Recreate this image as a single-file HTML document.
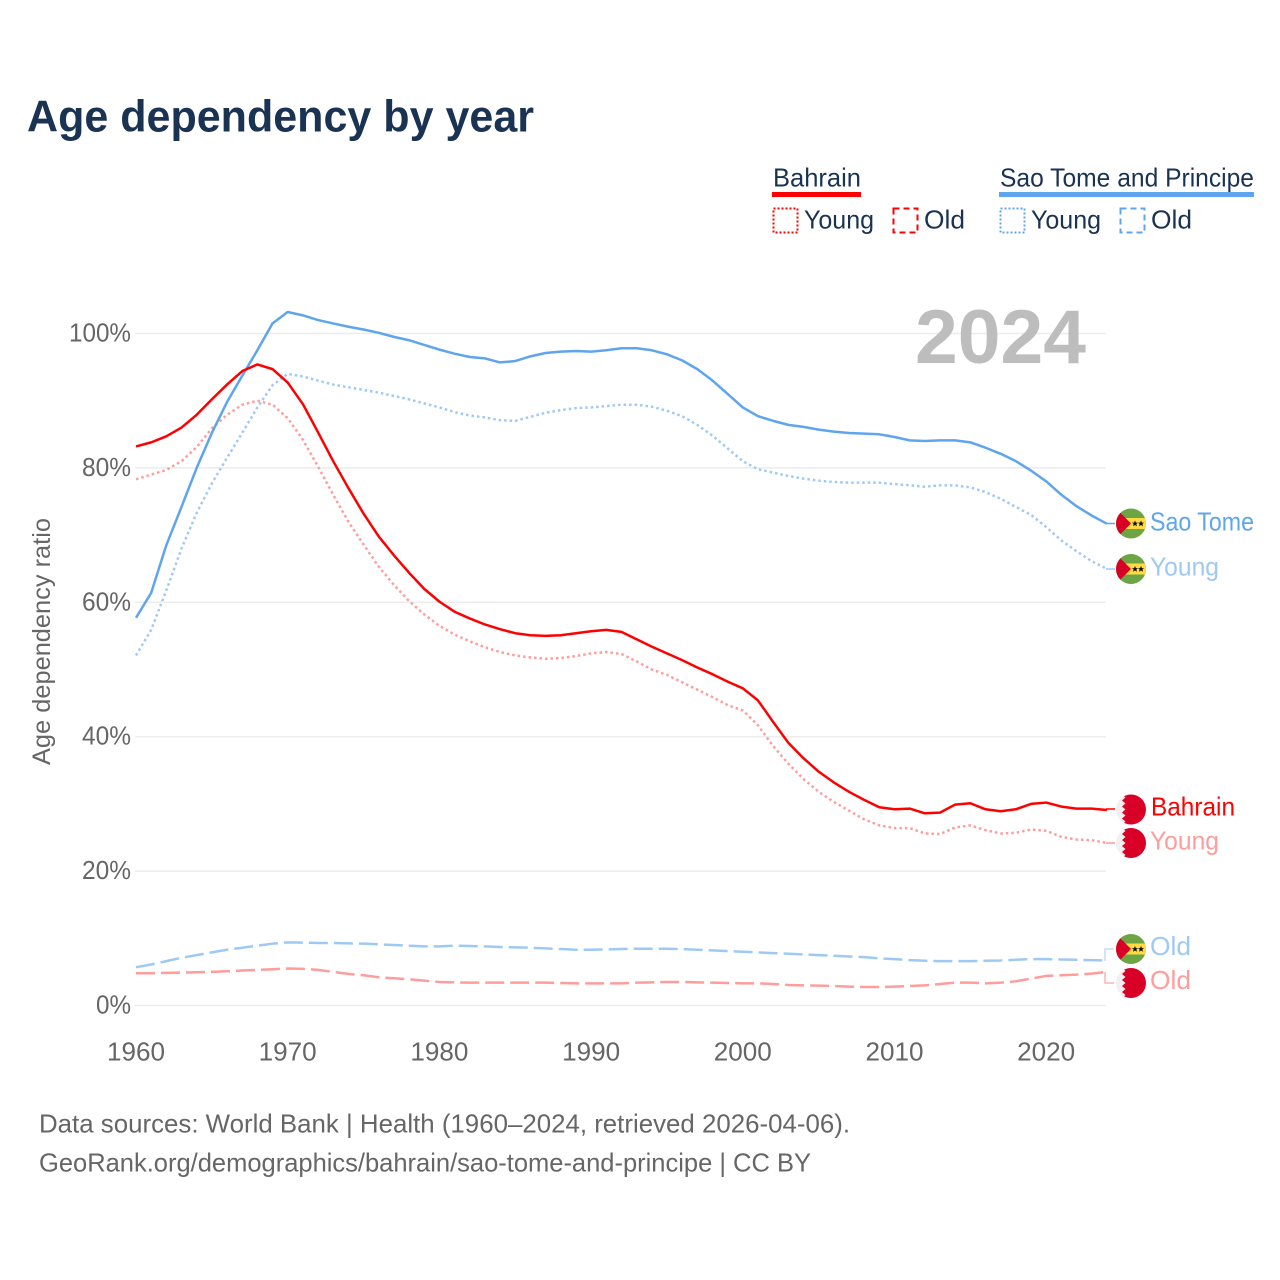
<!DOCTYPE html>
<html lang="en">
<head>
<meta charset="utf-8">
<title>Age dependency by year</title>
<style>
html,body{margin:0;padding:0;background:#fff;}
svg{display:block;font-family:"Liberation Sans",sans-serif;}
</style>
</head>
<body>
<svg id="chart" width="1280" height="1280" viewBox="0 0 1280 1280" xmlns="http://www.w3.org/2000/svg">
  <rect x="0" y="0" width="1280" height="1280" fill="#ffffff"/>
  <text x="27" y="131.5" font-size="44.5" font-weight="700" fill="#1a3352" textLength="507" lengthAdjust="spacingAndGlyphs">Age dependency by year</text>

  <g>
    <text x="773" y="186.5" font-size="26" fill="#1a3352" textLength="88" lengthAdjust="spacingAndGlyphs">Bahrain</text>
    <rect x="772" y="192" width="89" height="5" fill="#ff0000"/>
    <rect x="773.5" y="208.5" width="24" height="24" fill="none" stroke="#ff0000" stroke-width="2" stroke-dasharray="2 2"/>
    <text x="804" y="228.5" font-size="26" fill="#1a3352" textLength="70" lengthAdjust="spacingAndGlyphs">Young</text>
    <rect x="893.5" y="208.5" width="24" height="24" fill="none" stroke="#ff0000" stroke-width="2" stroke-dasharray="6 4"/>
    <text x="924" y="228.5" font-size="26" fill="#1a3352" textLength="41" lengthAdjust="spacingAndGlyphs">Old</text>
    <text x="1000" y="186.5" font-size="26" fill="#1a3352" textLength="254" lengthAdjust="spacingAndGlyphs">Sao Tome and Principe</text>
    <rect x="999" y="192" width="255" height="5" fill="#5fa5ee"/>
    <rect x="1000.5" y="208.5" width="24" height="24" fill="none" stroke="#5fa5ee" stroke-width="2" stroke-dasharray="2 2"/>
    <text x="1031" y="228.5" font-size="26" fill="#1a3352" textLength="70" lengthAdjust="spacingAndGlyphs">Young</text>
    <rect x="1120.5" y="208.5" width="24" height="24" fill="none" stroke="#5fa5ee" stroke-width="2" stroke-dasharray="6 4"/>
    <text x="1151" y="228.5" font-size="26" fill="#1a3352" textLength="41" lengthAdjust="spacingAndGlyphs">Old</text>
  </g>

  <g id="grid"></g>
  <text x="915" y="363" font-size="76" font-weight="700" fill="#bdbdbd" textLength="171" lengthAdjust="spacingAndGlyphs">2024</text>
  <g id="yticks"></g>
  <g id="xticks"></g>
  <text transform="translate(50,765) rotate(-90)" font-size="25" fill="#666666" textLength="247" lengthAdjust="spacingAndGlyphs">Age dependency ratio</text>
  <g id="series"></g>

  <g fill="none" stroke-width="1.5">
    <path d="M1106 523.5H1115" stroke="#5fa5ee"/>
    <path d="M1106 569H1115" stroke="#9fc9f5"/>
    <path d="M1106 809H1115" stroke="#ff0000"/>
    <path d="M1106 843H1115" stroke="#ff9c9c"/>
    <path d="M1105 961V949H1114" stroke="#c3dcf7"/>
    <path d="M1105 972V983H1114" stroke="#ffb4b4"/>
  </g>

  <defs>
    <clipPath id="flag-clip"><circle cx="0" cy="0" r="15"/></clipPath>
    <g id="flag-st">
      <g clip-path="url(#flag-clip)">
        <rect x="-15" y="-15" width="30" height="30" fill="#6da544"/>
        <rect x="-15" y="-5.5" width="30" height="11" fill="#ffda44"/>
        <path d="M-15 -15L-11 -11L0 0L-11 11L-15 15Z" fill="#d80027"/>
        <polygon points="4,-3 4.9,-0.9 7,-0.9 5.4,0.5 6,2.8 4,1.5 2,2.8 2.6,0.5 1,-0.9 3.1,-0.9" fill="#111"/>
        <polygon points="10,-3 10.9,-0.9 13,-0.9 11.4,0.5 12,2.8 10,1.5 8,2.8 8.6,0.5 7,-0.9 9.1,-0.9" fill="#111"/>
      </g>
    </g>
    <g id="flag-bh">
      <g clip-path="url(#flag-clip)">
        <rect x="-15" y="-15" width="30" height="30" fill="#f0f0f0"/>
        <path d="M-9 -15L-5.5 -12L-9 -9L-5.5 -6L-9 -3L-5.5 0L-9 3L-5.5 6L-9 9L-5.5 12L-9 15H15V-15Z" fill="#d80027"/>
      </g>
    </g>
  </defs>

  <g>
    <use href="#flag-bh" x="1131" y="809.5"/>
    <use href="#flag-bh" x="1131" y="843"/>
    <use href="#flag-st" x="1131" y="523.5"/>
    <use href="#flag-st" x="1131" y="569"/>
    <use href="#flag-st" x="1131" y="949"/>
    <use href="#flag-bh" x="1131" y="983"/>
    <text x="1150" y="530.5" font-size="26" fill="#5fa5ee" textLength="104" lengthAdjust="spacingAndGlyphs">Sao Tome</text>
    <text x="1150" y="575.5" font-size="26" fill="#9fc9f5" textLength="69" lengthAdjust="spacingAndGlyphs">Young</text>
    <text x="1151" y="815.5" font-size="26" fill="#ff0000" textLength="84" lengthAdjust="spacingAndGlyphs">Bahrain</text>
    <text x="1150" y="849.5" font-size="26" fill="#ff9c9c" textLength="69" lengthAdjust="spacingAndGlyphs">Young</text>
    <text x="1150" y="955" font-size="26" fill="#9fc9f5" textLength="41" lengthAdjust="spacingAndGlyphs">Old</text>
    <text x="1150" y="989" font-size="26" fill="#ff9c9c" textLength="41" lengthAdjust="spacingAndGlyphs">Old</text>
  </g>

  <text x="39" y="1132.5" font-size="26" fill="#666666" textLength="811" lengthAdjust="spacingAndGlyphs">Data sources: World Bank | Health (1960–2024, retrieved 2026-04-06).</text>
  <text x="39" y="1171.5" font-size="26" fill="#666666" textLength="772" lengthAdjust="spacingAndGlyphs">GeoRank.org/demographics/bahrain/sao-tome-and-principe | CC BY</text>
</svg>
<script>
const startYear = 1960;
const xTickYears = [1960, 1970, 1980, 1990, 2000, 2010, 2020];
const yTickValues = [0, 20, 40, 60, 80, 100];
const bahrainTotal = [83.2,83.8,84.7,86,87.9,90.2,92.4,94.4,95.4,94.7,92.7,89.5,85.3,81,77,73.2,69.8,67,64.4,62,60.1,58.6,57.6,56.7,56,55.4,55.1,55,55.1,55.4,55.7,55.9,55.6,54.5,53.4,52.4,51.4,50.3,49.3,48.2,47.2,45.4,42.2,39.1,36.8,34.8,33.2,31.8,30.6,29.5,29.2,29.3,28.6,28.7,29.9,30.1,29.2,28.9,29.2,30,30.2,29.6,29.3,29.3,29.1];
const bahrainYoung = [78.3,79,79.7,81,83.1,85.9,87.9,89.4,90,89.4,87.4,84.2,80.2,76,72,68.6,65.3,62.6,60.2,58.2,56.5,55.2,54.2,53.3,52.6,52.1,51.8,51.6,51.7,52,52.4,52.6,52.3,51.2,50,49.2,48.1,47,45.9,44.7,43.9,41.7,38.6,36,33.7,31.8,30.3,29,27.7,26.8,26.4,26.4,25.6,25.5,26.5,26.8,26.1,25.6,25.7,26.2,26,25.1,24.7,24.6,24.2];
const bahrainOld = [4.8,4.8,4.85,4.9,4.95,5,5.1,5.2,5.3,5.4,5.5,5.45,5.3,5,4.7,4.5,4.2,4.05,3.9,3.7,3.5,3.45,3.4,3.4,3.4,3.4,3.4,3.4,3.35,3.3,3.3,3.3,3.3,3.4,3.45,3.5,3.5,3.45,3.4,3.35,3.3,3.3,3.2,3.05,3,2.95,2.9,2.8,2.75,2.75,2.8,2.9,3,3.2,3.4,3.4,3.3,3.4,3.6,4,4.4,4.5,4.6,4.75,5];
const saoTotal = [57.7,61.4,68.5,74.2,80,85.2,89.8,93.7,97.5,101.5,103.2,102.7,102,101.5,101,100.6,100.1,99.5,99,98.3,97.6,97,96.5,96.3,95.7,95.9,96.6,97.1,97.3,97.4,97.3,97.5,97.8,97.8,97.5,96.9,96,94.7,93,91,89,87.7,87,86.4,86.1,85.7,85.4,85.2,85.1,85,84.6,84.1,84,84.1,84.1,83.8,83,82.1,81,79.6,78,76,74.3,72.9,71.7];
const saoYoung = [52.1,55.9,61.8,68,73.3,77.7,81.5,85.2,89,92.3,94,93.6,93,92.4,92,91.6,91.2,90.7,90.2,89.6,89,88.3,87.8,87.5,87.1,87,87.6,88.2,88.6,88.9,89,89.2,89.4,89.4,89.1,88.5,87.7,86.4,84.8,82.9,81,79.8,79.3,78.8,78.4,78.1,77.9,77.8,77.8,77.8,77.6,77.4,77.2,77.4,77.4,77.1,76.4,75.4,74.2,73,71.2,69.2,67.6,66.1,65];
const saoOld = [5.7,6.1,6.6,7.1,7.5,7.9,8.3,8.6,8.9,9.2,9.4,9.35,9.3,9.3,9.25,9.2,9.1,9,8.9,8.8,8.8,8.9,8.85,8.8,8.7,8.65,8.6,8.5,8.4,8.3,8.3,8.35,8.4,8.45,8.45,8.45,8.4,8.3,8.2,8.1,8,7.9,7.8,7.7,7.6,7.5,7.4,7.3,7.2,7,6.9,6.75,6.65,6.6,6.6,6.6,6.65,6.7,6.8,6.9,6.9,6.85,6.8,6.75,6.7];

const NS = "http://www.w3.org/2000/svg";
function xScale(year){ return 136 + (year - 1960) * 15.17; }
function yScale(pct){ return 1005.5 - pct * 6.72; }
function svgEl(tag, parentId){
  const el = document.createElementNS(NS, tag);
  document.getElementById(parentId).appendChild(el);
  return el;
}

yTickValues.forEach(function(v){
  const line = svgEl("line", "grid");
  
  
  line.setAttribute("x1", 135);
  line.setAttribute("x2", 1106);
  line.setAttribute("y1", yScale(v));
  line.setAttribute("y2", yScale(v));
  line.setAttribute("stroke", "#ececec");
  line.setAttribute("stroke-width", 1.5);
  const label = svgEl("text", "yticks");
  
  
  label.setAttribute("x", 131);
  label.setAttribute("y", yScale(v) + 8);
  label.setAttribute("text-anchor", "end");
  label.setAttribute("font-size", 25.5);
  label.setAttribute("fill", "#666666");
  label.textContent = v + "%";
  label.setAttribute("textLength", v === 100 ? 62 : v === 0 ? 35 : 49);
  label.setAttribute("lengthAdjust", "spacingAndGlyphs");
});

xTickYears.forEach(function(year){
  const label = svgEl("text", "xticks");
  
  
  label.setAttribute("x", xScale(year));
  label.setAttribute("y", 1060.5);
  label.setAttribute("text-anchor", "middle");
  label.setAttribute("font-size", 25.5);
  label.setAttribute("fill", "#666666");
  label.textContent = String(year);
  label.setAttribute("textLength", 58);
  label.setAttribute("lengthAdjust", "spacingAndGlyphs");
});

function drawSeries(values, name, color, dash, width){
  const d = values.map(function(v, i){
    return (i ? "L" : "M") + xScale(startYear + i).toFixed(2) + " " + yScale(v).toFixed(2);
  }).join("");
  const path = svgEl("path", "series");
  
  
  path.setAttribute("d", d);
  path.setAttribute("fill", "none");
  path.setAttribute("stroke", color);
  path.setAttribute("stroke-width", width);
  path.setAttribute("stroke-linejoin", "round");
  if (dash) path.setAttribute("stroke-dasharray", dash);
}

drawSeries(saoOld, "line-sao-tome-old", "#9fc9f5", "19 6", 2.5);
drawSeries(bahrainOld, "line-bahrain-old", "#ff9c9c", "19 6", 2.5);
drawSeries(saoYoung, "line-sao-tome-young", "#9fc9f5", "2.5 3", 2.5);
drawSeries(bahrainYoung, "line-bahrain-young", "#ff9c9c", "2.5 3", 2.5);
drawSeries(saoTotal, "line-sao-tome-total", "#5fa5ee", null, 2.5);
drawSeries(bahrainTotal, "line-bahrain-total", "#ff0000", null, 2.5);
</script>
</body>
</html>
